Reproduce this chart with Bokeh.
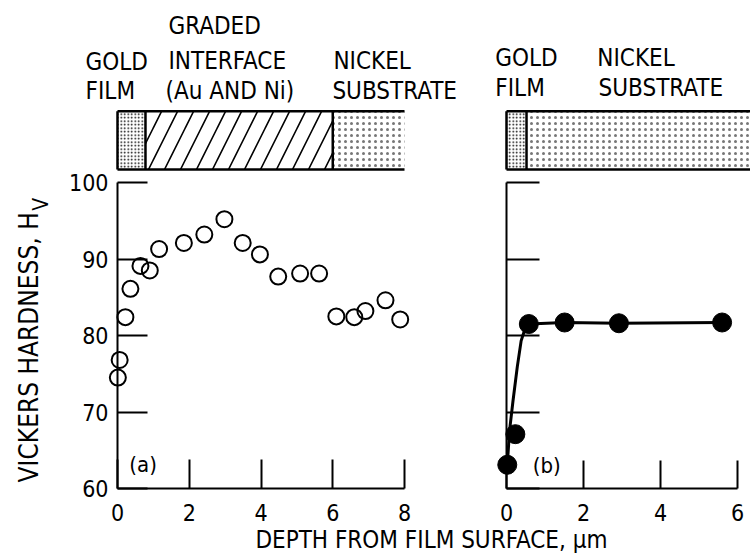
from bokeh.plotting import figure
from bokeh.models import Range1d, LinearAxis, FixedTicker, Label
from bokeh.embed import file_html
from bokeh.resources import INLINE

# ---------------- data ----------------
a_depth = [0.01, 0.06, 0.22, 0.36, 0.64, 0.90, 1.16, 1.85, 2.42, 2.98,
           3.49, 3.97, 4.48, 5.09, 5.62, 6.10, 6.60, 6.91, 7.47, 7.88]
a_hv = [74.5, 76.8, 82.4, 86.1, 89.1, 88.5, 91.3, 92.1, 93.2, 95.2,
        92.1, 90.6, 87.7, 88.1, 88.1, 82.5, 82.4, 83.2, 84.6, 82.1]

b_depth = [0.02, 0.23, 0.58, 1.51, 2.92, 5.60]
b_hv = [63.1, 67.1, 81.5, 81.7, 81.6, 81.7]

b_curve_depth = [0.02, 0.08, 0.17, 0.28, 0.38, 0.45, 0.58, 1.51, 2.92, 5.60]
b_curve_hv = [63.1, 67.6, 71.5, 75.9, 79.3, 80.4, 81.5, 81.7, 81.6, 81.7]

# zone boundaries of the layer bars (depth, um)
a_zones = [0.0, 0.78, 6.0, 8.0]       # gold film | graded interface | nickel
b_zones = [0.0, 0.52, 6.34]           # gold film | nickel

hv_ticks = [60, 70, 80, 90, 100]
a_ticks = [0, 2, 4, 6, 8]
b_ticks = [0, 2, 4, 6]

# ---------------- layout constants ----------------
FONT = "DejaVu Sans Condensed"
AX = 35.875   # px per um, panel (a)
BX = 38.5     # px per um, panel (b)
YS = 7.65     # px per HV unit
BAR_BOT, BAR_TOP = 101.7, 109.3

p = figure(width=750, height=560, output_backend="svg", toolbar_location=None,
           x_range=Range1d(-117 / AX, (750 - 117) / AX),
           y_range=Range1d(60 - 72 / YS, 60 + 488 / YS),
           x_axis_location=None, y_axis_location=None,
           min_border=0, min_border_left=0, min_border_right=0,
           min_border_top=0, min_border_bottom=0)
p.extra_x_ranges = {"b": Range1d(-506 / BX, (750 - 506) / BX)}
p.outline_line_color = None
p.grid.visible = False
p.background_fill_color = "white"
p.border_fill_color = "white"


def style_axis(ax, tick_in):
    ax.major_tick_in = tick_in
    ax.major_tick_out = 0
    ax.minor_tick_in = 0
    ax.minor_tick_out = 0
    ax.axis_line_width = 2
    ax.axis_line_color = "black"
    ax.major_tick_line_width = 2
    ax.major_tick_line_color = "black"
    ax.major_label_text_font = FONT
    ax.major_label_text_font_size = "23px"
    ax.major_label_text_color = "black"


ya = LinearAxis(fixed_location=0, bounds=(60, 100), ticker=FixedTicker(ticks=hv_ticks))
style_axis(ya, 30)
ya.major_label_standoff = 9
p.add_layout(ya, "left")

yb = LinearAxis(fixed_location=0, bounds=(60, 100), ticker=FixedTicker(ticks=hv_ticks),
                x_range_name="b")
style_axis(yb, 33)
yb.major_label_overrides = {t: "" for t in hv_ticks}
p.add_layout(yb, "left")

xa = LinearAxis(fixed_location=60, bounds=(0, 8), ticker=FixedTicker(ticks=a_ticks))
style_axis(xa, 29)
xa.major_label_standoff = 15
p.add_layout(xa, "below")

xb = LinearAxis(fixed_location=60, bounds=(0, 6), ticker=FixedTicker(ticks=b_ticks),
                x_range_name="b")
style_axis(xb, 28)
xb.major_label_standoff = 15
p.add_layout(xb, "below")

# ---------------- layer bars ----------------
gold_kw = dict(fill_color="white", hatch_pattern=".", hatch_scale=3.5, hatch_weight=2.4,
               hatch_color="black", line_color=None)
nick_kw = dict(fill_color="white", hatch_pattern=".", hatch_scale=6, hatch_weight=1.2,
               hatch_color="#777777", line_color=None)
grad_kw = dict(fill_color="white", hatch_pattern="/", hatch_scale=32, hatch_weight=1.6,
               hatch_color="black", line_color=None)

p.quad(left=[a_zones[0]], right=[a_zones[1]], bottom=[BAR_BOT], top=[BAR_TOP], **gold_kw)
p.quad(left=[a_zones[1]], right=[a_zones[2]], bottom=[BAR_BOT], top=[BAR_TOP], **grad_kw)
p.quad(left=[a_zones[2]], right=[a_zones[3]], bottom=[BAR_BOT], top=[BAR_TOP], **nick_kw)

p.quad(left=[b_zones[0]], right=[b_zones[1]], bottom=[BAR_BOT], top=[BAR_TOP],
       x_range_name="b", **gold_kw)
p.quad(left=[b_zones[1]], right=[b_zones[2]], bottom=[BAR_BOT], top=[BAR_TOP],
       x_range_name="b", **nick_kw)

for zones, rn in ((a_zones, "default"), (b_zones, "b")):
    v = zones[:-1]
    p.segment(x0=v, x1=v, y0=[BAR_BOT] * len(v), y1=[BAR_TOP] * len(v),
              line_color="black", line_width=2.5, x_range_name=rn)
    p.segment(x0=[zones[0]] * 2, x1=[zones[-1]] * 2, y0=[BAR_BOT, BAR_TOP],
              y1=[BAR_BOT, BAR_TOP], line_color="black", line_width=2.5, x_range_name=rn)

# ---------------- data marks ----------------
p.scatter(a_depth, a_hv, size=16, fill_color=None, line_color="black", line_width=2)

p.line(b_curve_depth, b_curve_hv, line_color="black", line_width=3, x_range_name="b")
p.scatter(b_depth, b_hv, size=19, fill_color="black", line_color="black",
          x_range_name="b")

# ---------------- texts ----------------
def lab(x, y, text, rn="default", size="24px", **kw):
    p.add_layout(Label(x=x, y=y, text=text, x_range_name=rn, text_font=FONT,
                       text_font_size=size, text_color="black",
                       text_baseline=kw.pop("baseline", "middle"),
                       text_align=kw.pop("align", "left"), **kw))


lab(-0.89, 115.8, "GOLD")
lab(-0.89, 112.0, "FILM")
lab(1.42, 120.5, "GRADED")
lab(1.42, 115.9, "INTERFACE")
lab(1.34, 112.0, "(Au AND Ni)")
lab(6.02, 115.9, "NICKEL")
lab(5.99, 112.0, "SUBSTRATE")

lab(-0.29, 116.3, "GOLD", rn="b")
lab(-0.29, 112.4, "FILM", rn="b")
lab(2.36, 116.3, "NICKEL", rn="b")
lab(2.39, 112.4, "SUBSTRATE", rn="b")

lab(0.33, 63.1, "(a)", size="22px")
lab(0.68, 63.0, "(b)", rn="b", size="22px")

lab(8.75, 53.3, "DEPTH FROM FILM SURFACE, \u00b5m", size="24px", align="center")
lab(-2.48, 60.8, "VICKERS HARDNESS, H", size="26px", angle=90, angle_units="deg")
lab(-2.12, 96.3, "V", size="21px", angle=90, angle_units="deg")

open("out.html", "w").write(file_html(p, INLINE))
